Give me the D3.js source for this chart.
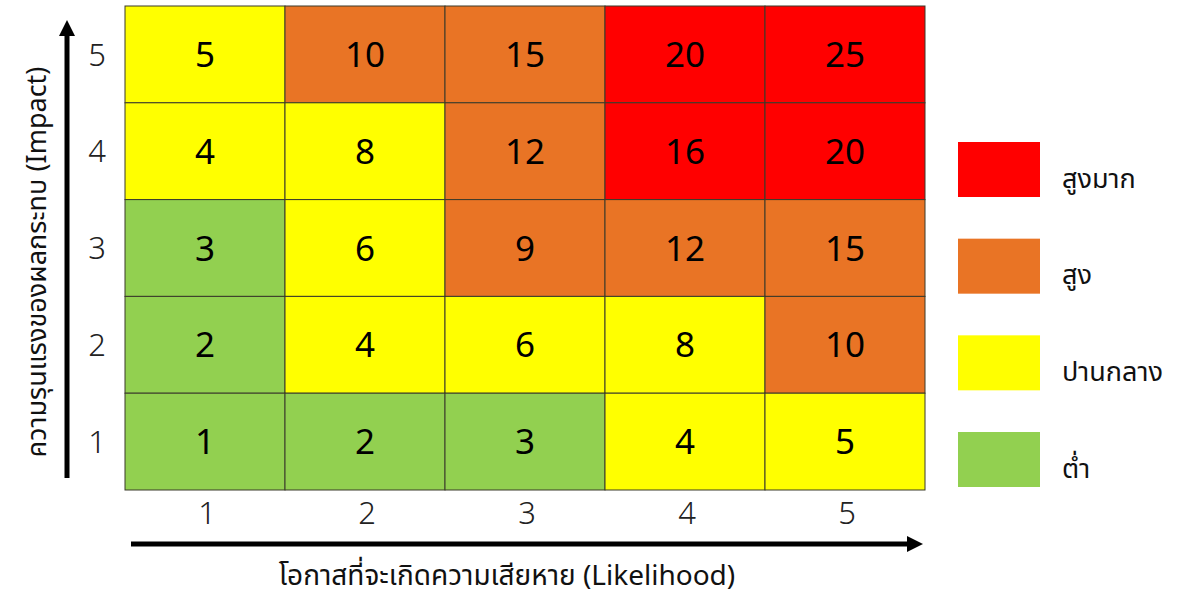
<!DOCTYPE html>
<html>
<head>
<meta charset="utf-8">
<script src="https://cdn.jsdelivr.net/npm/d3@7"></script>
<style>
  body { margin: 0; background: #fff; }
  svg { font-family: "Noto Sans Thai", "Noto Sans", "DejaVu Sans", sans-serif; }
</style>
</head>
<body>
<script>
const width = 1199;
const height = 590;

const likelihood = [1, 2, 3, 4, 5];
const impact = [1, 2, 3, 4, 5];
// scores by impact row (top = 5) and likelihood column
const scores = [
  [5, 10, 15, 20, 25],
  [4, 8, 12, 16, 20],
  [3, 6, 9, 12, 15],
  [2, 4, 6, 8, 10],
  [1, 2, 3, 4, 5]
];
const levels = [
  ["mid", "high", "high", "vhigh", "vhigh"],
  ["mid", "mid", "high", "vhigh", "vhigh"],
  ["low", "mid", "high", "high", "high"],
  ["low", "mid", "mid", "mid", "high"],
  ["low", "low", "low", "mid", "mid"]
];
const legendKeys = ["vhigh", "high", "mid", "low"];
const legendLabels = ["สูงมาก", "สูง", "ปานกลาง", "ต่ำ"];
const xTitle = "โอกาสที่จะเกิดความเสียหาย (Likelihood)";
const yTitle = "ความรุนแรงของผลกระทบ (Impact)";

const color = d3.scaleOrdinal()
  .domain(legendKeys)
  .range(["#ff0000", "#e97425", "#ffff00", "#92d050"]);

const margin = { left: 125, top: 6, right: 274, bottom: 100 };
const innerWidth = width - margin.left - margin.right;
const innerHeight = height - margin.top - margin.bottom;

const svg = d3.select("body").append("svg")
  .attr("width", width)
  .attr("height", height);

const g = svg.append("g")
  .attr("transform", `translate(${margin.left}, ${margin.top})`);

const xScale = d3.scaleBand().domain(likelihood).range([0, innerWidth]);
const yScale = d3.scaleBand().domain(impact.slice().reverse()).range([0, innerHeight]);

const cells = [];
impact.slice().reverse().forEach((imp, r) => {
  likelihood.forEach((lik, c) => {
    cells.push({ imp, lik, score: scores[r][c], level: levels[r][c] });
  });
});

g.selectAll("rect.cell").data(cells).enter().append("rect")
  .attr("class", "cell")
  .attr("x", d => xScale(d.lik))
  .attr("y", d => yScale(d.imp))
  .attr("width", xScale.bandwidth())
  .attr("height", yScale.bandwidth())
  .attr("fill", d => color(d.level))
  .attr("stroke", "#3a3a2a")
  .attr("stroke-width", 1);

g.selectAll("text.score").data(cells).enter().append("text")
  .attr("class", "score")
  .attr("x", d => xScale(d.lik) + xScale.bandwidth() / 2)
  .attr("y", d => yScale(d.imp) + yScale.bandwidth() / 2)
  .attr("dy", "0.36em")
  .attr("text-anchor", "middle")
  .style("font-size", "35px")
  .style("fill", "#000")
  .text(d => d.score);

// tick labels
g.selectAll("text.xtick").data(likelihood).enter().append("text")
  .attr("class", "xtick")
  .attr("x", d => xScale(d) + xScale.bandwidth() / 2 + 2)
  .attr("y", innerHeight + 23)
  .attr("dy", "0.36em")
  .attr("text-anchor", "middle")
  .style("font-size", "31px")
  .style("font-weight", 300)
  .style("fill", "#222")
  .text(d => d);

g.selectAll("text.ytick").data(impact).enter().append("text")
  .attr("class", "ytick")
  .attr("x", -28)
  .attr("y", d => yScale(d) + yScale.bandwidth() / 2)
  .attr("dy", "0.36em")
  .attr("text-anchor", "middle")
  .style("font-size", "31px")
  .style("font-weight", 300)
  .style("fill", "#222")
  .text(d => d);

// arrows
const defs = svg.append("defs");
defs.append("marker")
  .attr("id", "head")
  .attr("viewBox", "0 0 10 10")
  .attr("refX", 0).attr("refY", 5)
  .attr("markerWidth", 3.4).attr("markerHeight", 3.2)
  .attr("markerUnits", "strokeWidth")
  .attr("orient", "auto")
  .append("path").attr("d", "M0,0 L10,5 L0,10 Z").attr("fill", "#000");

svg.append("line")
  .attr("x1", 67).attr("y1", 478)
  .attr("x2", 67).attr("y2", 36)
  .attr("stroke", "#000").attr("stroke-width", 5)
  .attr("marker-end", "url(#head)");

svg.append("line")
  .attr("x1", 131).attr("y1", 544)
  .attr("x2", 907).attr("y2", 544)
  .attr("stroke", "#000").attr("stroke-width", 5)
  .attr("marker-end", "url(#head)");

// axis titles
svg.append("text")
  .attr("x", 507).attr("y", 575)
  .attr("dy", "0.36em")
  .attr("text-anchor", "middle")
  .style("font-size", "28px")
  .style("fill", "#111")
  .text(xTitle);

svg.append("text")
  .attr("transform", `translate(36, 262) rotate(-90)`)
  .attr("dy", "0.36em")
  .attr("text-anchor", "middle")
  .style("font-size", "27px")
  .style("fill", "#111")
  .text(yTitle);

// legend
const legendY = d3.scalePoint().domain(legendKeys).range([170, 460]);
const legend = svg.selectAll("g.legend").data(legendKeys).enter().append("g")
  .attr("class", "legend")
  .attr("transform", d => `translate(958, ${legendY(d)})`);

legend.append("rect")
  .attr("x", 0).attr("y", -28)
  .attr("width", 82).attr("height", 55)
  .attr("fill", d => color(d));

legend.append("text")
  .attr("x", 104).attr("y", 8)
  .attr("dy", "0.36em")
  .style("font-size", "27px")
  .style("fill", "#111")
  .text((d, i) => legendLabels[i]);
</script>
</body>
</html>
